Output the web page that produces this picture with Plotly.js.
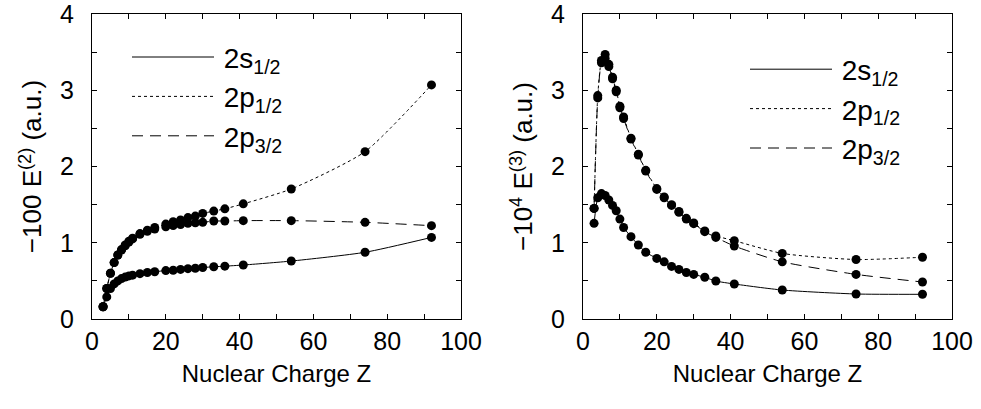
<!DOCTYPE html>
<html>
<head>
<meta charset="utf-8">
<script src="https://cdn.plot.ly/plotly-3.0.1.min.js"></script>
<style>html,body{margin:0;padding:0;background:#fff;}#chart{width:981px;height:409px;}</style>
</head>
<body>
<div id="chart"></div>
<script>
// Nuclear charge values
const Z = [3,4,5,6,7,8,9,10,11,13,15,17,20,22,24,26,28,30,33,36,41,54,74,92];

// Left panel: -100 E(2) (a.u.)
const E2_2s  = [0.16,0.29,0.40,0.46,0.50,0.53,0.55,0.565,0.575,0.595,0.61,0.62,0.635,0.64,0.65,0.66,0.665,0.675,0.685,0.693,0.708,0.76,0.875,1.07];
const E2_2p1 = [0.16,0.40,0.60,0.74,0.84,0.91,0.97,1.02,1.06,1.12,1.165,1.20,1.245,1.275,1.30,1.33,1.35,1.385,1.415,1.445,1.51,1.705,2.195,3.07];
const E2_2p3 = [0.16,0.40,0.60,0.74,0.84,0.905,0.96,1.01,1.05,1.11,1.15,1.18,1.21,1.225,1.24,1.255,1.263,1.268,1.285,1.285,1.29,1.29,1.268,1.224];

// Right panel: -10^4 E(3) (a.u.)
const E3_2s  = [1.255,1.59,1.645,1.62,1.56,1.49,1.42,1.31,1.20,1.08,0.97,0.875,0.795,0.75,0.69,0.65,0.61,0.585,0.547,0.498,0.459,0.38,0.328,0.324];
const E3_2p1 = [1.45,2.93,3.39,3.47,3.34,3.17,3.00,2.79,2.65,2.37,2.16,1.95,1.71,1.60,1.50,1.41,1.32,1.26,1.155,1.09,1.027,0.86,0.78,0.81];
const E3_2p3 = [1.45,2.90,3.36,3.42,3.31,3.15,2.98,2.77,2.63,2.36,2.15,1.94,1.70,1.59,1.49,1.40,1.31,1.25,1.145,1.07,0.957,0.75,0.585,0.485];

const seriesNames = ['2s<sub>1/2</sub>','2p<sub>1/2</sub>','2p<sub>3/2</sub>'];
const xTickVals = [0,10,20,30,40,50,60,70,80,90,100];
const xTickText = ['0','','20','','40','','60','','80','','100'];
const yTickVals = [0,0.5,1,1.5,2,2.5,3,3.5,4];
const yTickText = ['0','','1','','2','','3','','4'];

const FONT = 'Liberation Sans, Arial, Helvetica, sans-serif';
const dashes = ['solid','dot','11px,7px'];

const traces = [];
function addPanel(ys, xa, ya, leg) {
  ys.forEach((y, i) => {
    traces.push({
      x: Z, y: y, xaxis: xa, yaxis: ya, type: 'scatter', mode: 'lines',
      name: '\u2006' + seriesNames[i], legend: leg,
      line: {color: '#000', width: 1, dash: dashes[i], shape: 'spline', smoothing: 0.6},
      hoverinfo: 'skip'
    });
  });
  ys.forEach((y, i) => {
    traces.push({
      x: Z, y: y, xaxis: xa, yaxis: ya, type: 'scatter', mode: 'markers',
      showlegend: false,
      marker: {color: '#000', size: 9, symbol: 'circle'}
    });
  });
}
addPanel([E2_2s, E2_2p1, E2_2p3], 'x', 'y', 'legend');
addPanel([E3_2s, E3_2p1, E3_2p3], 'x2', 'y2', 'legend2');

function xax(domain) {
  return {
    domain: domain, range: [0, 100], tickvals: xTickVals, ticktext: xTickText,
    ticks: 'inside', ticklen: 5, tickwidth: 1, tickcolor: '#000',
    showline: true, linecolor: '#000', linewidth: 1, mirror: 'ticks',
    showgrid: false, zeroline: false, ticklabeloverflow: 'allow',
    tickfont: {family: FONT, size: 25, color: '#000'},
    title: {text: 'Nuclear Charge Z', font: {family: FONT, size: 24, color: '#000'}, standoff: 11}
  };
}
function yax(anchor, title) {
  return {
    anchor: anchor, domain: [0, 1], range: [0, 4], tickvals: yTickVals, ticktext: yTickText,
    ticks: 'inside', ticklen: 5, tickwidth: 1, tickcolor: '#000',
    showline: true, linecolor: '#000', linewidth: 1, mirror: 'ticks',
    showgrid: false, zeroline: false, ticklabelstandoff: 12, ticklabeloverflow: 'allow',
    tickfont: {family: FONT, size: 25, color: '#000'},
    title: {text: title, font: {family: FONT, size: 26, color: '#000'}, standoff: 10}
  };
}

const legendCommon = {
  bgcolor: 'rgba(0,0,0,0)', borderwidth: 0, xanchor: 'left', yanchor: 'top',
  font: {family: FONT, size: 28, color: '#000'}, itemwidth: 82, tracegroupgap: 0
};

const layout = {
  width: 981, height: 409,
  margin: {l: 0, r: 0, t: 14, b: 90},
  paper_bgcolor: '#fff', plot_bgcolor: '#fff',
  showlegend: true,
  xaxis: Object.assign(xax([92/981, 461/981]), {anchor: 'y'}),
  yaxis: yax('x', '−100 E<sup>(2)</sup> (a.u.)'),
  xaxis2: Object.assign(xax([583/981, 952/981]), {anchor: 'y2'}),
  yaxis2: yax('x2', '−10<sup>4</sup> E<sup>(3)</sup> (a.u.)'),
  legend: Object.assign({}, legendCommon, {x: 127/981, y: 0.94}),
  legend2: Object.assign({}, legendCommon, {x: 745/981, y: 0.90})
};

Plotly.newPlot('chart', traces, layout, {displayModeBar: false, staticPlot: true});
</script>
</body>
</html>
